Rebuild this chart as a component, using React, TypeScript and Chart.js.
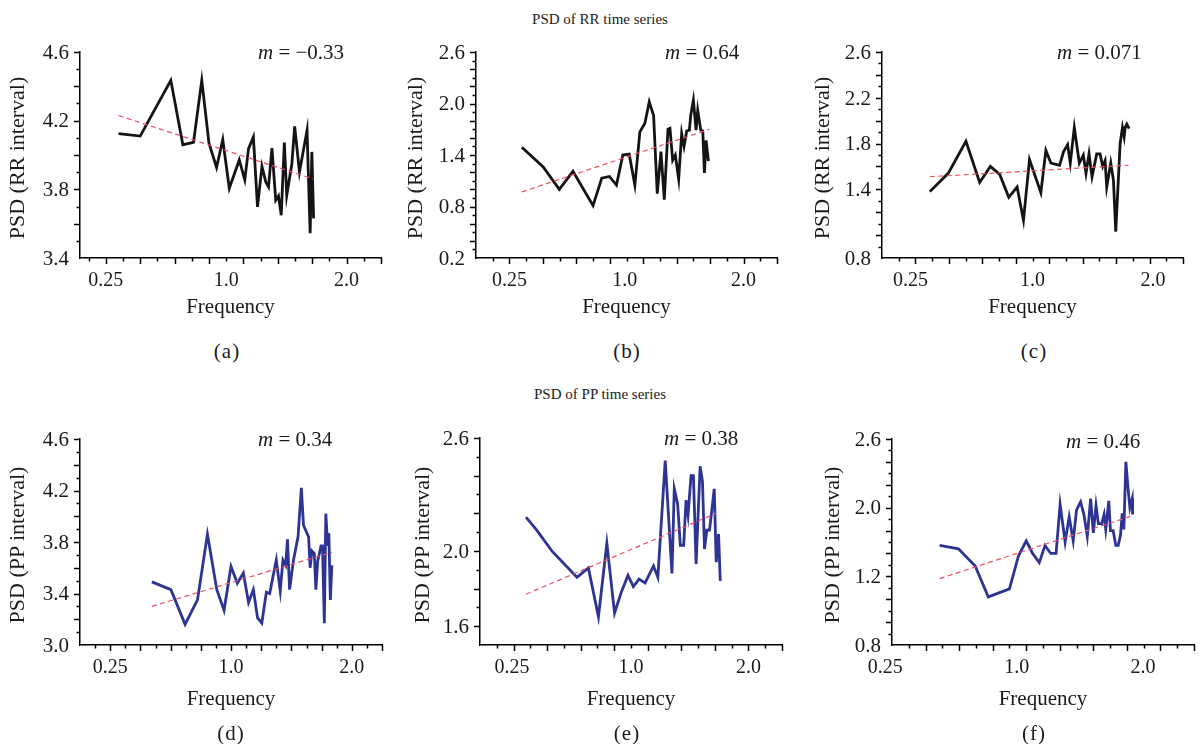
import React, { useEffect, useRef, useState } from "react";
import { Chart, registerables } from "chart.js";
Chart.register(...registerables);

const FONT = "'Liberation Serif', 'Times New Roman', serif";
const BLACK = "#141414";
const BLUE = "#2d3494";
const RED = "#ee4f5f";
const TEXT = "#1a1a1a";

// x positions are in axis-tick units (one unit per major x tick, as drawn)
const xTickLabels = ["0.25", "1.0", "2.0"];

// (a) RR
const aX = [1.37, 2.0, 2.89, 3.24, 3.55, 3.79, 4.0, 4.22, 4.4, 4.59, 4.88, 5.04, 5.15, 5.29, 5.41, 5.54, 5.65, 5.73, 5.83, 5.94, 6.02, 6.1, 6.19, 6.26, 6.41, 6.49, 6.63, 6.85, 6.94, 6.99, 7.04];
const aY = [4.125, 4.11, 4.435, 4.06, 4.074, 4.435, 4.068, 3.927, 4.09, 3.806, 3.971, 3.855, 4.037, 4.105, 3.698, 3.934, 3.843, 3.814, 4.04, 3.736, 3.761, 3.649, 4.073, 3.765, 3.95, 4.167, 3.901, 4.144, 3.544, 4.018, 3.631];
const aTrendX = [1.37, 7.04];
const aTrendY = [4.23, 3.86];
const aYTicks = [3.4, 3.8, 4.2, 4.6];
const aYLabels = ["3.4", "3.8", "4.2", "4.6"];

// (b) RR
const bX = [1.37, 2.01, 2.49, 2.9, 3.5, 3.76, 3.99, 4.2, 4.39, 4.58, 4.75, 4.9, 5.05, 5.18, 5.31, 5.42, 5.53, 5.63, 5.74, 5.8, 5.88, 5.96, 6.06, 6.15, 6.22, 6.3, 6.38, 6.42, 6.5, 6.58, 6.63, 6.72, 6.78, 6.83, 6.88, 6.95];
const bY = [1.49, 1.26, 1.0, 1.21, 0.81, 1.13, 1.15, 1.05, 1.4, 1.41, 1.05, 1.67, 1.77, 2.02, 1.86, 0.95, 1.44, 0.88, 1.7, 1.71, 1.34, 1.4, 1.12, 1.65, 1.5, 1.68, 1.69, 1.86, 2.04, 1.69, 1.92, 1.69, 1.68, 1.19, 1.57, 1.33];
const bTrendX = [1.37, 6.98];
const bTrendY = [0.97, 1.7];
const bYTicks = [0.2, 0.8, 1.4, 2.0, 2.6];
const bYLabels = ["0.2", "0.8", "1.4", "2.0", "2.6"];

// (c) RR
const cX = [1.43, 1.98, 2.51, 2.92, 3.24, 3.52, 3.79, 4.04, 4.23, 4.41, 4.75, 4.9, 5.05, 5.31, 5.43, 5.55, 5.63, 5.75, 5.9, 6.02, 6.1, 6.19, 6.28, 6.42, 6.52, 6.6, 6.67, 6.72, 6.84, 6.92, 6.99, 7.12, 7.19, 7.24, 7.27, 7.32, 7.39];
const cY = [1.38, 1.54, 1.82, 1.46, 1.6, 1.53, 1.33, 1.42, 1.13, 1.66, 1.37, 1.74, 1.63, 1.61, 1.73, 1.79, 1.63, 1.94, 1.63, 1.7, 1.54, 1.71, 1.51, 1.71, 1.71, 1.6, 1.65, 1.42, 1.63, 1.48, 1.03, 1.8, 1.94, 1.86, 1.94, 1.97, 1.93];
const cTrendX = [1.43, 7.37];
const cTrendY = [1.51, 1.61];
const cYTicks = [0.8, 1.4, 1.8, 2.2, 2.6];
const cYLabels = ["0.8", "1.4", "1.8", "2.2", "2.6"];

// (d) PP
const dX = [2.38, 3.01, 3.48, 3.89, 4.22, 4.53, 4.77, 5.0, 5.21, 5.41, 5.58, 5.74, 5.88, 6.02, 6.17, 6.28, 6.5, 6.63, 6.72, 6.81, 6.87, 6.94, 7.07, 7.22, 7.33, 7.4, 7.57, 7.62, 7.68, 7.76, 7.81, 7.87, 7.98, 8.03, 8.09, 8.14, 8.2, 8.24, 8.29, 8.34];
const dY = [3.49, 3.43, 3.16, 3.35, 3.86, 3.43, 3.27, 3.61, 3.48, 3.56, 3.33, 3.43, 3.21, 3.17, 3.41, 3.4, 3.66, 3.42, 3.66, 3.62, 3.82, 3.43, 3.66, 3.84, 4.22, 3.93, 3.84, 3.6, 3.73, 3.71, 3.43, 3.65, 3.77, 3.77, 3.17, 4.02, 3.77, 3.87, 3.35, 3.62];
const dTrendX = [2.38, 8.34];
const dTrendY = [3.3, 3.72];
const dYTicks = [3.0, 3.4, 3.8, 4.2, 4.6];
const dYLabels = ["3.0", "3.4", "3.8", "4.2", "4.6"];

// (e) PP
const eX = [1.37, 1.69, 2.14, 2.89, 3.23, 3.53, 3.78, 4.01, 4.21, 4.41, 4.57, 4.74, 4.92, 5.17, 5.3, 5.52, 5.72, 5.79, 5.89, 5.97, 6.07, 6.14, 6.2, 6.29, 6.36, 6.44, 6.56, 6.63, 6.69, 6.76, 6.84, 6.98, 7.04, 7.11, 7.16];
const eY = [2.18, 2.11, 2.0, 1.86, 1.91, 1.65, 2.04, 1.67, 1.78, 1.87, 1.81, 1.85, 1.83, 1.92, 1.86, 2.48, 1.88, 2.33, 2.25, 2.03, 2.03, 2.27, 2.19, 2.4, 2.4, 1.93, 2.45, 2.37, 2.01, 2.11, 2.11, 2.33, 1.94, 2.09, 1.84];
const eTrendX = [1.37, 7.04];
const eTrendY = [1.77, 2.2];
const eYTicks = [1.6, 2.0, 2.6];
const eYLabels = ["1.6", "2.0", "2.6"];

// (f) PP
const fX = [1.42, 1.98, 2.48, 2.87, 3.5, 3.77, 4.0, 4.19, 4.39, 4.56, 4.73, 4.89, 5.01, 5.16, 5.28, 5.4, 5.5, 5.62, 5.72, 5.82, 5.92, 6.0, 6.08, 6.15, 6.25, 6.32, 6.37, 6.46, 6.51, 6.59, 6.67, 6.74, 6.81, 6.86, 6.91, 6.97, 7.04, 7.09, 7.16, 7.17];
const fY = [1.67, 1.64, 1.49, 1.22, 1.29, 1.58, 1.71, 1.6, 1.52, 1.67, 1.6, 1.6, 2.03, 1.7, 1.92, 1.71, 1.98, 2.05, 1.94, 1.75, 2.08, 1.78, 2.02, 1.86, 1.86, 1.94, 1.81, 2.06, 1.8, 1.8, 1.67, 1.67, 1.76, 1.95, 1.81, 2.4, 2.15, 2.0, 2.08, 1.94];
const fTrendX = [1.42, 7.17];
const fTrendY = [1.38, 1.93];
const fYTicks = [0.8, 1.4, 2.0, 2.6];
const fYLabels = ["0.8", "1.2", "2.0", "2.6"];

type PanelCfg = {
  key: string;
  xs: number[]; ys: number[]; tx: number[]; ty: number[];
  color: string;
  yMin: number; yMax: number; yTicks: number[]; yLabels: string[];
  xMin: number; xMax: number; xLabelPos: number[];
  yTitle: string; slope: string;
  L: number; T: number; R: number; B: number;
  yTitleX: number; xTitleBase: number;
  mLeft: number; mBase: number; labelX: number; labelBase: number;
};

const panels: PanelCfg[] = [
  { key: "a", xs: aX, ys: aY, tx: aTrendX, ty: aTrendY, color: BLACK, yMin: 3.4, yMax: 4.6, yTicks: aYTicks, yLabels: aYLabels, xMin: 0.25, xMax: 9, xLabelPos: [1, 4.5, 8], yTitle: "PSD (RR interval)", slope: "= \u22120.33", L: 80, T: 52, R: 381, B: 258, yTitleX: 17, xTitleBase: 313, mLeft: 258, mBase: 59, labelX: 227, labelBase: 358 },
  { key: "b", xs: bX, ys: bY, tx: bTrendX, ty: bTrendY, color: BLACK, yMin: 0.2, yMax: 2.6, yTicks: bYTicks, yLabels: bYLabels, xMin: 0, xMax: 9, xLabelPos: [1, 4.45, 8], yTitle: "PSD (RR interval)", slope: "= 0.64", L: 476, T: 52, R: 777, B: 258, yTitleX: 415, xTitleBase: 313, mLeft: 665, mBase: 59, labelX: 627, labelBase: 358 },
  { key: "c", xs: cX, ys: cY, tx: cTrendX, ty: cTrendY, color: BLACK, yMin: 0.8, yMax: 2.6, yTicks: cYTicks, yLabels: cYLabels, xMin: 0, xMax: 9, xLabelPos: [0.85, 4.5, 8.1], yTitle: "PSD (RR interval)", slope: "= 0.071", L: 882, T: 52, R: 1183, B: 258, yTitleX: 822, xTitleBase: 313, mLeft: 1057, mBase: 59, labelX: 1034, labelBase: 358 },
  { key: "d", xs: dX, ys: dY, tx: dTrendX, ty: dTrendY, color: BLUE, yMin: 3.0, yMax: 4.6, yTicks: dYTicks, yLabels: dYLabels, xMin: 0, xMax: 10, xLabelPos: [1, 5, 9], yTitle: "PSD (PP interval)", slope: "= 0.34", L: 80, T: 439, R: 382, B: 645, yTitleX: 16.5, xTitleBase: 705, mLeft: 258, mBase: 446, labelX: 231, labelBase: 740 },
  { key: "e", xs: eX, ys: eY, tx: eTrendX, ty: eTrendY, color: BLUE, yMin: 1.5, yMax: 2.6, yTicks: eYTicks, yLabels: eYLabels, xMin: 0, xMax: 9, xLabelPos: [0.95, 4.5, 8], yTitle: "PSD (PP interval)", slope: "= 0.38", L: 480, T: 438, R: 782, B: 645, yTitleX: 422, xTitleBase: 705, mLeft: 664, mBase: 445, labelX: 627, labelBase: 740 },
  { key: "f", xs: fX, ys: fY, tx: fTrendX, ty: fTrendY, color: BLUE, yMin: 0.8, yMax: 2.6, yTicks: fYTicks, yLabels: fYLabels, xMin: 0, xMax: 9, xLabelPos: [-0.2, 3.72, 7.48], yTitle: "PSD (PP interval)", slope: "= 0.46", L: 892, T: 439, R: 1194, B: 645, yTitleX: 832, xTitleBase: 705, mLeft: 1066, mBase: 448, labelX: 1034, labelBase: 740 },
];

const PAD_TOP = 22;
const Y_AXIS_W = 80;
const X_AXIS_H = 40;

type Pos = { xl: number[]; yl: number[]; left: number; right: number; top: number; bottom: number };

const textBase: React.CSSProperties = {
  position: "absolute",
  fontFamily: FONT,
  color: TEXT,
  whiteSpace: "nowrap",
  lineHeight: "20px",
};

function Panel({ cfg }: { cfg: PanelCfg }) {
  const ref = useRef<HTMLCanvasElement>(null);
  const [pos, setPos] = useState<Pos | null>(null);
  const padRight = Math.min(14, 1200 - cfg.R);
  const width = cfg.R - cfg.L + Y_AXIS_W + padRight;
  const height = cfg.B - cfg.T + PAD_TOP + X_AXIS_H;
  const ox = cfg.L - Y_AXIS_W;
  const oy = cfg.T - PAD_TOP;

  useEffect(() => {
    if (!ref.current) return;
    const tickMarks = {
      id: "tickMarks",
      afterDraw(chart: any) {
        const { ctx, scales } = chart;
        const xs = scales.x;
        const ys = scales.y;
        const bottom = chart.chartArea.bottom;
        const left = chart.chartArea.left;
        ctx.save();
        ctx.strokeStyle = "#000";
        ctx.lineWidth = 1.5;
        ctx.beginPath();
        const k0 = Math.ceil(cfg.xMin * 2);
        const k1 = Math.floor(cfg.xMax * 2);
        for (let k = k0; k <= k1; k++) {
          const u = k / 2;
          if (u <= cfg.xMin + 0.01) continue;
          const px = Math.round(xs.getPixelForValue(u)) + 0.5;
          const len = k % 2 === 0 ? 6 : 3.5;
          ctx.moveTo(px, bottom);
          ctx.lineTo(px, bottom + len);
        }
        const n = Math.round((cfg.yMax - cfg.yMin) / 0.1);
        for (let i = 0; i <= n; i++) {
          const v = cfg.yMax - i * 0.1;
          if (v < cfg.yMin + 0.01) continue;
          const py = Math.round(ys.getPixelForValue(v)) + 0.5;
          const len = i % 2 === 0 ? 6 : 3.5;
          ctx.moveTo(left - len, py);
          ctx.lineTo(left, py);
        }
        ctx.stroke();
        ctx.restore();
      },
    };

    const chart = new Chart(ref.current, {
      type: "line",
      data: {
        datasets: [
          {
            data: cfg.tx.map((x, i) => ({ x, y: cfg.ty[i] })),
            borderColor: RED,
            borderWidth: 1.2,
            borderDash: [5, 3.5],
            pointRadius: 0,
            fill: false,
          },
          {
            data: cfg.xs.map((x, i) => ({ x, y: cfg.ys[i] })),
            borderColor: cfg.color,
            borderWidth: 2.8,
            pointRadius: 0,
            tension: 0,
            fill: false,
            borderJoinStyle: "miter",
          },
        ],
      },
      options: {
        animation: false,
        responsive: false,
        maintainAspectRatio: false,
        parsing: false as any,
        layout: { padding: { top: PAD_TOP, right: padRight, left: 0, bottom: 0 } },
        plugins: { legend: { display: false }, tooltip: { enabled: false } },
        scales: {
          x: {
            type: "linear",
            min: cfg.xMin,
            max: cfg.xMax,
            grid: { display: false, drawTicks: false },
            border: { display: true, color: "#000", width: 1.5 },
            ticks: { display: false },
            afterBuildTicks: (s: any) => {
              s.ticks = cfg.xLabelPos.map((v) => ({ value: v }));
            },
            afterFit: (s: any) => {
              s.height = X_AXIS_H;
            },
          },
          y: {
            type: "linear",
            min: cfg.yMin,
            max: cfg.yMax,
            grid: { display: false, drawTicks: false },
            border: { display: true, color: "#000", width: 1.5 },
            ticks: { display: false },
            afterBuildTicks: (s: any) => {
              s.ticks = cfg.yTicks.map((v) => ({ value: v }));
            },
            afterFit: (s: any) => {
              s.width = Y_AXIS_W;
            },
          },
        },
      } as any,
      plugins: [tickMarks],
    });

    const xs: any = chart.scales.x;
    const ys: any = chart.scales.y;
    setPos({
      xl: cfg.xLabelPos.map((v) => xs.getPixelForValue(v)),
      yl: cfg.yTicks.map((v) => ys.getPixelForValue(v)),
      left: chart.chartArea.left,
      right: chart.chartArea.right,
      top: chart.chartArea.top,
      bottom: chart.chartArea.bottom,
    });
    return () => chart.destroy();
  }, []);

  return (
    <div style={{ position: "absolute", left: ox, top: oy, width, height }}>
      <canvas ref={ref} width={width} height={height} style={{ position: "absolute", left: 0, top: 0, width, height }} />
      {pos &&
        pos.yl.map((py, i) => (
          <div
            key={"y" + i}
            style={{ ...textBase, fontSize: 21, right: width - (pos.left - 11), top: py - 10.2, textAlign: "right" }}
          >
            {cfg.yLabels[i]}
          </div>
        ))}
      {pos &&
        pos.xl.map((px, i) => (
          <div
            key={"x" + i}
            style={{ ...textBase, fontSize: 20, left: px, top: pos.bottom + 11.25, transform: "translateX(-50%)" }}
          >
            {xTickLabels[i]}
          </div>
        ))}
      {pos && (
        <div
          style={{
            ...textBase,
            fontSize: 21,
            lineHeight: "24px",
            left: (pos.left + pos.right) / 2,
            top: cfg.xTitleBase - oy - 19.1,
            transform: "translateX(-50%)",
          }}
        >
          Frequency
        </div>
      )}
      {pos && (
        <div
          style={{
            ...textBase,
            fontSize: 22,
            lineHeight: "24px",
            left: cfg.yTitleX - ox,
            top: (pos.top + pos.bottom) / 2 + 3,
            transform: "translate(-50%, -50%) rotate(-90deg)",
          }}
        >
          {cfg.yTitle}
        </div>
      )}
    </div>
  );
}

export default function App() {
  return (
    <div style={{ position: "absolute", left: 0, top: 0, width: 1201, height: 744, background: "#fff", overflow: "hidden" }}>
      {panels.map((p) => (
        <Panel key={p.key} cfg={p} />
      ))}
      <div style={{ ...textBase, fontSize: 15, left: 600, top: 22 - 13, transform: "translateX(-50%)" }}>PSD of RR time series</div>
      <div style={{ ...textBase, fontSize: 15, left: 600, top: 397 - 13, transform: "translateX(-50%)" }}>PSD of PP time series</div>
      {panels.map((p) => (
        <div key={"m" + p.key} style={{ ...textBase, fontSize: 21, left: p.mLeft, top: p.mBase - 17 }}>
          <i>m</i> {p.slope}
        </div>
      ))}
      {panels.map((p) => (
        <div key={"l" + p.key} style={{ ...textBase, fontSize: 21, letterSpacing: 1, left: p.labelX, top: p.labelBase - 17, transform: "translateX(-50%)" }}>
          ({p.key})
        </div>
      ))}
    </div>
  );
}
